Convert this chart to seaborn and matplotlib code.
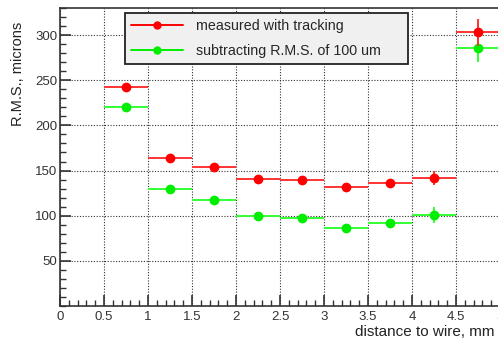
import numpy as np
import matplotlib
matplotlib.use("Agg")
import matplotlib.pyplot as plt
from matplotlib.lines import Line2D
from matplotlib.ticker import MultipleLocator
import seaborn as sns

# bin centres (mm) and half widths
distance = [0.75, 1.25, 1.75, 2.25, 2.75, 3.25, 3.75, 4.25, 4.75]
half_bin = [0.25] * 9

# measured with tracking
rms_measured = [242, 164, 154, 141, 139, 132, 136, 142, 303]
err_measured = [2, 2, 2, 2, 2, 2, 2, 8, 15]

# after subtracting R.M.S. of 100 um
rms_subtracted = [220, 130, 117, 100, 98, 86, 92, 101, 286]
err_subtracted = [2, 2, 2, 2, 2, 2, 2, 9, 16]

labels = ['measured with tracking', 'subtracting R.M.S. of 100 um']
red, green = '#ff0000', '#00ee00'

sns.set_style("ticks")
plt.rcParams['font.family'] = ['Liberation Sans', 'DejaVu Sans']

fig = plt.figure(figsize=(4.98, 3.4), dpi=100)
ax = fig.add_axes([60 / 498, 34 / 340, 440 / 498, 298 / 340])

ax.errorbar(distance, rms_measured, xerr=half_bin, yerr=err_measured,
            fmt='o', color=red, ecolor='#ff3333', markersize=6,
            elinewidth=1.4, capsize=0, zorder=4)
ax.errorbar(distance, rms_subtracted, xerr=half_bin, yerr=err_subtracted,
            fmt='o', color=green, ecolor='#33ff33', markersize=6,
            elinewidth=1.4, capsize=0, zorder=3)

ax.set_xlim(0, 5)
ax.set_ylim(0, 330)
ax.xaxis.set_minor_locator(MultipleLocator(0.1))
ax.yaxis.set_minor_locator(MultipleLocator(10))
ax.set_xticks(np.arange(0, 5.01, 0.5))
ax.set_xticklabels(['0', '0.5', '1', '1.5', '2', '2.5', '3', '3.5', '4', '4.5', '5'])
ax.set_yticks([50, 100, 150, 200, 250, 300])
ax.tick_params(which='major', direction='in', length=8, width=1.2,
               labelsize=9.5, colors='#333333', top=False, right=False)
ax.tick_params(which='minor', direction='in', length=4, width=1.0,
               colors='#333333', top=False, right=False)
ax.tick_params(axis='y', pad=2)
ax.grid(True, which='major', color='#333333', linestyle=(0, (1, 1.5)), linewidth=0.8)

for side in ['left', 'bottom', 'top', 'right']:
    ax.spines[side].set_color('#333333')
    ax.spines[side].set_linewidth(1.2)

ax.set_ylabel('R.M.S., microns', fontsize=10.5, color='#222222')
ax.yaxis.set_label_coords(-0.08, 0.78)
# keep the whole label inside the figure
ax.set_xlabel('distance to wire, mm', fontsize=11, color='#222222', ha='left')
ax.xaxis.set_label_coords((355 - 60) / 440, -0.065)

handles = [Line2D([], [], color=red, marker='o', markersize=5, linewidth=1.4),
           Line2D([], [], color=green, marker='o', markersize=5, linewidth=1.4)]
leg = ax.legend(handles, labels, loc='upper left', mode='expand',
                bbox_to_anchor=(65 / 440, 0.822, 283 / 440, 0.162),
                fontsize=10.3, frameon=True, fancybox=False, shadow=False,
                handlelength=3.6, borderpad=0.45, labelspacing=0.75,
                handletextpad=0.9, borderaxespad=0)
leg.get_frame().set_facecolor('#f0f0f0')
leg.get_frame().set_edgecolor('#222222')
leg.get_frame().set_linewidth(1.3)
leg.get_frame().set_alpha(1)
leg.set_zorder(10)

fig.savefig('out.png', dpi=100)
